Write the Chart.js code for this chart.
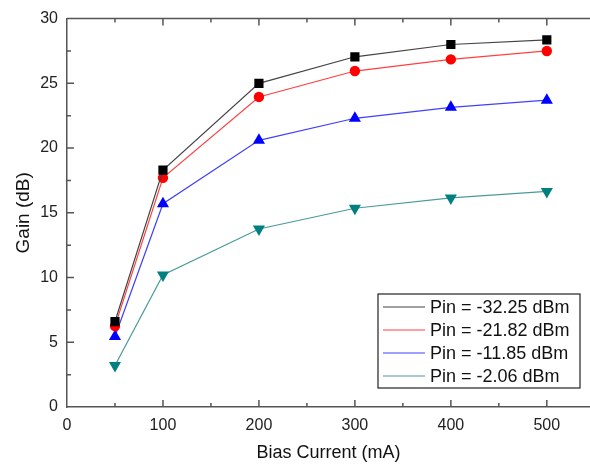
<!DOCTYPE html>
<html>
<head>
<meta charset="utf-8">
<script src="https://cdn.jsdelivr.net/npm/chart.js@4.4.1/dist/chart.umd.min.js"></script>
<style>
  html, body { margin: 0; padding: 0; background: #fff; overflow: hidden; }
  canvas { display: block; }
</style>
</head>
<body>
<canvas id="g_gain" width="590" height="468"></canvas>
<script>
// bias current (mA)
var corriente = [50, 100, 200, 300, 400, 500];
// gain (dB) for every input power
var pin_32 = [6.6, 18.3, 25.0, 27.05, 28.0, 28.35];
var pin_21 = [6.25, 17.7, 23.95, 25.95, 26.85, 27.5];
var pin_11 = [5.45, 15.7, 20.6, 22.3, 23.15, 23.7];
var pin_2 = [3.2, 10.2, 13.75, 15.35, 16.15, 16.65];
var etiquetas = ['Pin = -32.25 dBm', 'Pin = -21.82 dBm', 'Pin = -11.85 dBm', 'Pin = -2.06 dBm'];

function puntos(valores) {
    var datos = [];
    for (let i = 0; i < corriente.length; i++) {
        datos.push({x: corriente[i], y: valores[i]});
    }
    return datos;
}

function serie(label, valores, color, linea, estilo, radio, rotacion) {
    return {
        label: label,
        data: puntos(valores),
        borderColor: linea,
        backgroundColor: color,
        borderWidth: 1.2,
        pointStyle: estilo,
        pointRadius: radio,
        pointRotation: rotacion,
        pointBackgroundColor: color,
        pointBorderColor: color,
        pointBorderWidth: 0,
        tension: 0
    };
}

// frame on top + inward ticks
var marco = {
    id: 'marco',
    afterDraw: function (chart) {
        var ctx = chart.ctx;
        var a = chart.chartArea;
        var x = chart.scales.x;
        var y = chart.scales.y;
        ctx.save();
        ctx.strokeStyle = '#555';
        ctx.lineWidth = 1.5;
        ctx.beginPath();
        ctx.moveTo(a.left, a.top);
        ctx.lineTo(a.right, a.top);
        for (let v = 50; v <= 500; v += 50) {
            var px = x.getPixelForValue(v);
            var largo = (v % 100 === 0) ? 7 : 4;
            ctx.moveTo(px, a.bottom);
            ctx.lineTo(px, a.bottom - largo);
            ctx.moveTo(px, a.top);
            ctx.lineTo(px, a.top + largo);
        }
        for (let v = 2.5; v < 30; v += 2.5) {
            var py = y.getPixelForValue(v);
            var largo2 = (v % 5 === 0) ? 7 : 4;
            ctx.moveTo(a.left, py);
            ctx.lineTo(a.left + largo2, py);
        }
        ctx.stroke();
        ctx.restore();
    }
};

// legend box inside the plot, with line + marker samples
var leyenda = {
    id: 'leyenda',
    afterDraw: function (chart) {
        var ctx = chart.ctx;
        var a = chart.chartArea;
        var ancho = 202, alto = 94;
        var x0 = a.right - 10 - ancho;
        var y0 = a.bottom - 19 - alto;
        ctx.save();
        ctx.fillStyle = '#fff';
        ctx.fillRect(x0, y0, ancho, alto);
        ctx.strokeStyle = '#222';
        ctx.lineWidth = 1.2;
        ctx.strokeRect(x0, y0, ancho, alto);
        ctx.font = '18px "Liberation Sans", Arial, sans-serif';
        ctx.textBaseline = 'middle';
        chart.data.datasets.forEach(function (ds, i) {
            var cy = y0 + 13 + i * 23;
            ctx.strokeStyle = ds.borderColor;
            ctx.lineWidth = 1.2;
            ctx.beginPath();
            ctx.moveTo(x0 + 5, cy);
            ctx.lineTo(x0 + 47, cy);
            ctx.stroke();
            ctx.fillStyle = ds.pointBackgroundColor;
            Chart.helpers.drawPoint(ctx, {
                pointStyle: ds.pointStyle,
                rotation: ds.pointRotation,
                borderWidth: 0
            }, x0 + 26, cy, ds.pointRadius * 0.85);
            ctx.fillStyle = '#111';
            ctx.fillText(ds.label, x0 + 52, cy + 1);
        });
        ctx.restore();
    }
};

new Chart(document.getElementById('g_gain'), {
    type: 'line',
    data: {
        datasets: [
            serie(etiquetas[0], pin_32, '#000000', '#444444', 'rect', 6.5, 0),
            serie(etiquetas[1], pin_21, '#ff0000', '#ff4040', 'circle', 5.2, 0),
            serie(etiquetas[2], pin_11, '#0000ff', '#4040ff', 'triangle', 7, 0),
            serie(etiquetas[3], pin_2, '#008080', '#4a9a9a', 'triangle', 7, 180)
        ]
    },
    options: {
        responsive: false,
        animation: false,
        layout: { autoPadding: false, padding: { top: 16, right: 0, left: 0, bottom: 0 } },
        plugins: {
            legend: { display: false },
            tooltip: { enabled: false }
        },
        scales: {
            x: {
                type: 'linear',
                min: 0,
                max: 545,
                afterFit: function (s) {
                    s.height = 61;
                    s.paddingRight = 0;
                    s.paddingLeft = 0;
                },
                afterBuildTicks: function (s) {
                    s.ticks = [0, 100, 200, 300, 400, 500].map(function (v) { return {value: v}; });
                },
                grid: { display: false, drawTicks: false },
                border: { display: true, color: '#555', width: 1.5 },
                ticks: {
                    padding: 9,
                    color: '#222',
                    font: { family: '"Liberation Sans", Arial, sans-serif', size: 16 }
                },
                title: {
                    display: true,
                    text: 'Bias Current (mA)',
                    color: '#111',
                    padding: { top: 0, bottom: 4 },
                    font: { family: '"Liberation Sans", Arial, sans-serif', size: 18 }
                }
            },
            y: {
                min: 0,
                max: 30,
                afterFit: function (s) { s.width = 67; },
                grid: { display: false, drawTicks: false },
                border: { display: true, color: '#555', width: 1.5 },
                ticks: {
                    stepSize: 5,
                    padding: 9,
                    color: '#222',
                    font: { family: '"Liberation Sans", Arial, sans-serif', size: 16 }
                },
                title: {
                    display: true,
                    text: 'Gain (dB)',
                    color: '#111',
                    padding: { top: 12, bottom: 0 },
                    font: { family: '"Liberation Sans", Arial, sans-serif', size: 19 }
                }
            }
        }
    },
    plugins: [marco, leyenda]
});
</script>
</body>
</html>
